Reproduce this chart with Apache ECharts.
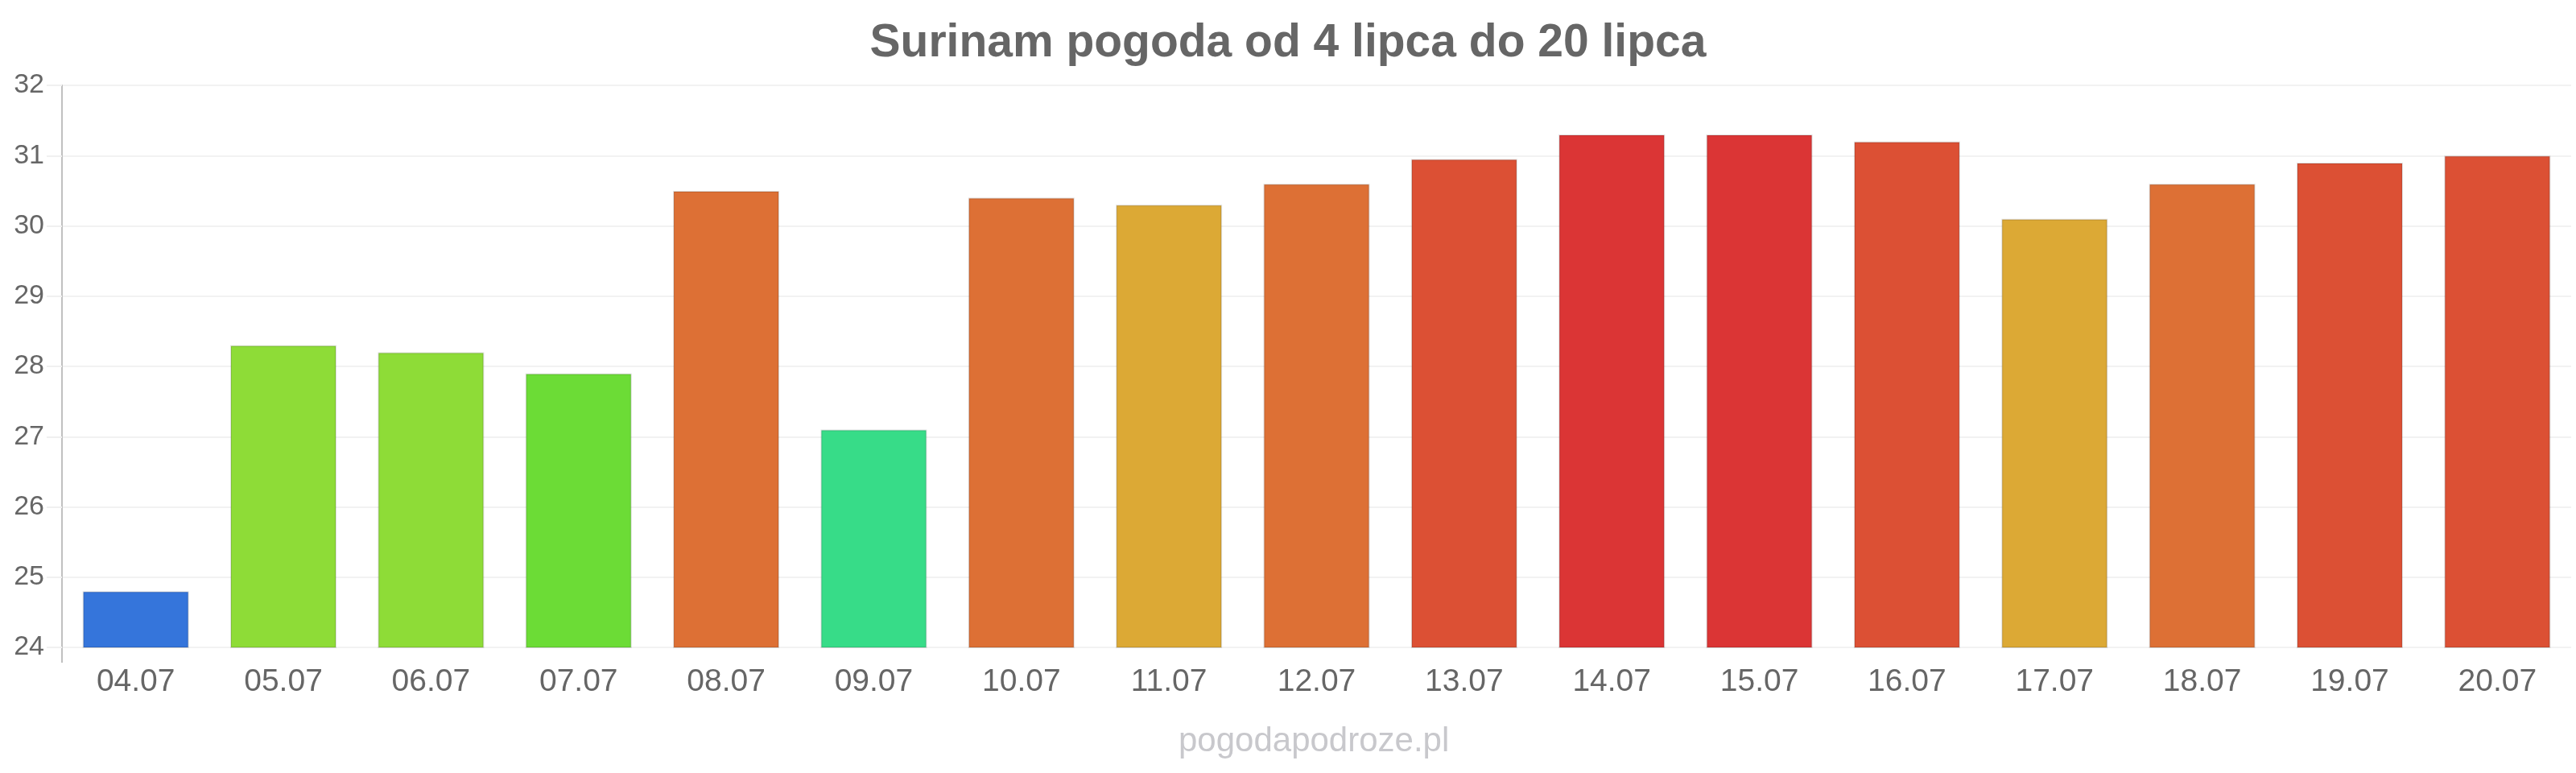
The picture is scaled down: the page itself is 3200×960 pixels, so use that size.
<!DOCTYPE html>
<html>
<head>
<meta charset="utf-8">
<script src="https://cdn.jsdelivr.net/npm/echarts@6/dist/echarts.min.js"></script>
<style>
  html, body { margin: 0; padding: 0; background: #ffffff; }
  #chart { width: 3200px; height: 960px; }
</style>
</head>
<body>
<div id="chart"></div>
<script>
// ---- data ----
var titleText = 'Surinam pogoda od 4 lipca do 20 lipca';
var watermarkText = 'pogodapodroze.pl';
var categories = ['04.07','05.07','06.07','07.07','08.07','09.07','10.07','11.07','12.07','13.07','14.07','15.07','16.07','17.07','18.07','19.07','20.07'];
var temperatures = [24.8, 28.3, 28.2, 27.9, 30.5, 27.1, 30.4, 30.3, 30.6, 30.95, 31.3, 31.3, 31.2, 30.1, 30.6, 30.9, 31.0];
var yMin = 24, yMax = 32, yStep = 1;

// ---- chart ----
var chart = echarts.init(document.getElementById('chart'), null, { renderer: 'canvas' });
var FONT = '"Liberation Sans", Arial, sans-serif';
var GRID = { left: 77, right: 6, top: 106, bottom: 156 };

chart.setOption({
  animation: false,
  backgroundColor: '#ffffff',
  title: {
    text: titleText,
    left: 'center',
    top: 21,
    textStyle: { fontFamily: FONT, fontSize: 57, fontWeight: 'bold', color: '#666666' }
  },
  grid: { left: GRID.left, right: GRID.right, top: GRID.top, bottom: GRID.bottom, containLabel: false },
  visualMap: {
    show: false,
    type: 'piecewise',
    dimension: 1,
    seriesIndex: 0,
    pieces: [
      { lt: 25, color: '#3575db' },
      { gte: 25, lt: 27.5, color: '#37dc88' },
      { gte: 27.5, lt: 28.05, color: '#6cdc36' },
      { gte: 28.05, lt: 29, color: '#8edc37' },
      { gte: 29, lt: 30.35, color: '#dca935' },
      { gte: 30.35, lt: 30.8, color: '#dd7035' },
      { gte: 30.8, lt: 31.25, color: '#dc5034' },
      { gte: 31.25, color: '#db3535' }
    ]
  },
  xAxis: {
    type: 'category',
    data: categories,
    boundaryGap: true,
    axisLine: { show: false },
    axisTick: { show: false },
    axisLabel: { fontFamily: FONT, fontSize: 39, color: '#666666', margin: 24 }
  },
  yAxis: {
    type: 'value',
    min: yMin,
    max: yMax,
    interval: yStep,
    axisLine: { show: true, lineStyle: { color: '#c0c0c0', width: 2 } },
    axisTick: { show: true, length: 19, lineStyle: { color: '#f0f0f0', width: 2 } },
    splitLine: { show: true, lineStyle: { color: '#f2f2f2', width: 2 } },
    axisLabel: { fontFamily: FONT, fontSize: 34, color: '#666666', margin: 22 }
  },
  graphic: [
    {
      type: 'line',
      shape: { x1: GRID.left, y1: 960 - GRID.bottom, x2: GRID.left, y2: 960 - GRID.bottom + 19 },
      style: { stroke: '#c0c0c0', lineWidth: 2 }
    },
    {
      type: 'text',
      left: 1635 - 171,
      top: 900,
      style: { text: watermarkText, fontFamily: FONT, fontSize: 42, fill: '#c8c8cc' }
    }
  ],
  series: [{
    type: 'bar',
    data: temperatures,
    barWidth: 132,
    itemStyle: { borderColor: 'rgba(0,0,0,0.12)', borderWidth: 2 }
  }]
});
</script>
</body>
</html>
